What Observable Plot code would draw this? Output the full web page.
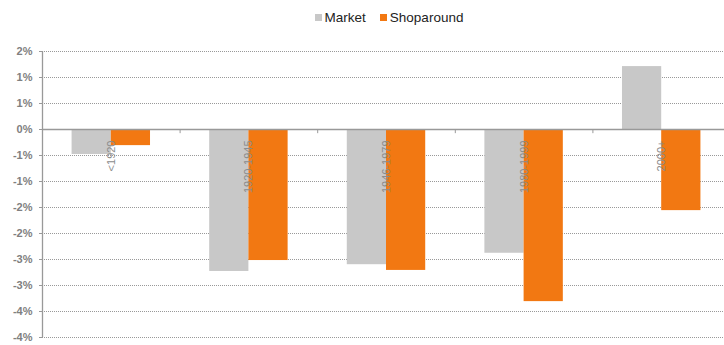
<!DOCTYPE html>
<html>
<head>
<meta charset="utf-8">
<script src="https://cdn.jsdelivr.net/npm/d3@7"></script>
<script src="https://cdn.jsdelivr.net/npm/@observablehq/plot@0.6"></script>
<style>
  body { margin: 0; background: #fff; font-family: "Liberation Sans", Arial, sans-serif; }
  #legend { height: 34px; display: flex; justify-content: center; align-items: center; font-size: 13.5px; color: #222; padding-left: 54px; box-sizing: border-box; }
  .item { display: flex; align-items: center; margin: 0 7px; }
  .sw { width: 7px; height: 7px; margin-right: 3px; }
</style>
</head>
<body>
<div id="legend"></div>
<div id="chart"></div>
<script>
const categories = ["<1920", "1920-1945", "1946-1979", "1980-1999", "2000+"];
const series = ["Market", "Shoparound"];
const marketValues = [-0.48, -2.73, -2.60, -2.38, 1.21];
const shoparoundValues = [-0.31, -2.52, -2.71, -3.31, -1.56];
const yTicks = [1.5, 1, 0.5, 0, -0.5, -1, -1.5, -2, -2.5, -3, -3.5, -4];
const colors = ["#c8c8c8", "#f27812"];

const barFrac = 0.285; // bar width as a fraction of a category slot

const data = [];
categories.forEach((c, i) => {
  data.push({category: c, series: series[0], value: marketValues[i], x1: i + 0.5 - barFrac, x2: i + 0.5});
  data.push({category: c, series: series[1], value: shoparoundValues[i], x1: i + 0.5, x2: i + 0.5 + barFrac});
});

const legend = document.getElementById("legend");
series.forEach((s, i) => {
  const it = document.createElement("div");
  it.className = "item";
  it.innerHTML = `<span class="sw" style="background:${colors[i]}"></span><span>${s}</span>`;
  legend.appendChild(it);
});

const fmt = v => {
  const r = Math.sign(v) * Math.round(Math.abs(v));
  return (r === 0 ? 0 : r) + "%";
};

const chart = Plot.plot({
  width: 724,
  height: 311,
  marginTop: 17,
  marginBottom: 8,
  marginLeft: 42,
  marginRight: 0,
  style: {fontFamily: "Liberation Sans, Arial, sans-serif", background: "#fff"},
  x: {type: "linear", domain: [0, categories.length], range: [42, 730], axis: null},
  y: {domain: [-4, 1.5], axis: null},
  color: {domain: series, range: colors},
  marks: [
    Plot.gridY(yTicks.filter(d => d !== 0), {stroke: "#999", strokeOpacity: 1, strokeDasharray: "1,1", strokeWidth: 1}),
    Plot.rectY(data, {x1: "x1", x2: "x2", y1: 0, y2: "value", fill: "series"}),
    Plot.ruleY([0], {stroke: "#999", strokeWidth: 1.3}),
    Plot.ruleX(d3.range(categories.length + 1), {x: d => d, y1: 0, y2: -0.08, stroke: "#999"}),
    Plot.text(categories, {x: (d, i) => i + 0.5, y: 0, text: d => d, rotate: -90, textAnchor: "end", dy: 11, fill: "#8c8c8c", fontSize: 11}),
    Plot.axisY({ticks: yTicks, tickFormat: fmt, label: null, tickSize: 3, tickPadding: 7, fontSize: 11, fontWeight: "bold", color: "#808080", stroke: "#999"}),
    Plot.ruleX([0], {y1: -4, y2: 1.5, stroke: "#999", strokeWidth: 1.3})
  ]
});
document.getElementById("chart").appendChild(chart);
</script>
</body>
</html>
